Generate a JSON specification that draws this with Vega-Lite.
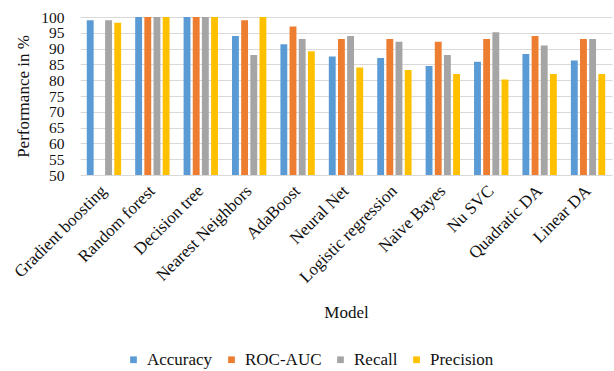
{
  "$schema": "https://vega.github.io/schema/vega-lite/v6.json",
  "width": 532,
  "height": 158,
  "autosize": {"type": "none"},
  "padding": {"left": 80, "top": 17, "right": 2, "bottom": 196},
  "background": "white",
  "config": {
    "view": {"stroke": null},
    "font": "Liberation Serif",
    "axis": {"labelFont": "Liberation Serif", "titleFont": "Liberation Serif", "labelColor": "#111", "titleColor": "#111", "titleFontWeight": "normal"},
    "legend": {"labelFont": "Liberation Serif", "labelColor": "#111"}
  },
  "data": {
    "values": [
      {"model": "Gradient boosting", "metric": "Accuracy", "value": 99},
      {"model": "Gradient boosting", "metric": "Recall", "value": 99},
      {"model": "Gradient boosting", "metric": "Precision", "value": 98.2},
      {"model": "Random forest", "metric": "Accuracy", "value": 100},
      {"model": "Random forest", "metric": "ROC-AUC", "value": 100},
      {"model": "Random forest", "metric": "Recall", "value": 100},
      {"model": "Random forest", "metric": "Precision", "value": 100},
      {"model": "Decision tree", "metric": "Accuracy", "value": 100},
      {"model": "Decision tree", "metric": "ROC-AUC", "value": 100},
      {"model": "Decision tree", "metric": "Recall", "value": 100},
      {"model": "Decision tree", "metric": "Precision", "value": 100},
      {"model": "Nearest Neighbors", "metric": "Accuracy", "value": 94},
      {"model": "Nearest Neighbors", "metric": "ROC-AUC", "value": 99},
      {"model": "Nearest Neighbors", "metric": "Recall", "value": 88},
      {"model": "Nearest Neighbors", "metric": "Precision", "value": 100},
      {"model": "AdaBoost", "metric": "Accuracy", "value": 91.4},
      {"model": "AdaBoost", "metric": "ROC-AUC", "value": 97},
      {"model": "AdaBoost", "metric": "Recall", "value": 93},
      {"model": "AdaBoost", "metric": "Precision", "value": 89.2},
      {"model": "Neural Net", "metric": "Accuracy", "value": 87.5},
      {"model": "Neural Net", "metric": "ROC-AUC", "value": 93},
      {"model": "Neural Net", "metric": "Recall", "value": 94},
      {"model": "Neural Net", "metric": "Precision", "value": 84},
      {"model": "Logistic regression", "metric": "Accuracy", "value": 87},
      {"model": "Logistic regression", "metric": "ROC-AUC", "value": 93},
      {"model": "Logistic regression", "metric": "Recall", "value": 92.2},
      {"model": "Logistic regression", "metric": "Precision", "value": 83.2},
      {"model": "Naive Bayes", "metric": "Accuracy", "value": 84.5},
      {"model": "Naive Bayes", "metric": "ROC-AUC", "value": 92.2},
      {"model": "Naive Bayes", "metric": "Recall", "value": 88},
      {"model": "Naive Bayes", "metric": "Precision", "value": 82},
      {"model": "Nu SVC", "metric": "Accuracy", "value": 85.8},
      {"model": "Nu SVC", "metric": "ROC-AUC", "value": 93},
      {"model": "Nu SVC", "metric": "Recall", "value": 95.2},
      {"model": "Nu SVC", "metric": "Precision", "value": 80.2},
      {"model": "Quadratic DA", "metric": "Accuracy", "value": 88.3},
      {"model": "Quadratic DA", "metric": "ROC-AUC", "value": 94},
      {"model": "Quadratic DA", "metric": "Recall", "value": 91},
      {"model": "Quadratic DA", "metric": "Precision", "value": 82},
      {"model": "Linear DA", "metric": "Accuracy", "value": 86.2},
      {"model": "Linear DA", "metric": "ROC-AUC", "value": 93},
      {"model": "Linear DA", "metric": "Recall", "value": 93},
      {"model": "Linear DA", "metric": "Precision", "value": 82}
    ]
  },
  "mark": {"type": "bar", "clip": true},
  "encoding": {
    "x": {
      "field": "model",
      "type": "nominal",
      "sort": ["Gradient boosting", "Random forest", "Decision tree", "Nearest Neighbors", "AdaBoost", "Neural Net", "Logistic regression", "Naive Bayes", "Nu SVC", "Quadratic DA", "Linear DA"],
      "scale": {"paddingInner": 0.29, "paddingOuter": 0.14},
      "axis": {
        "title": "Model",
        "titleFont": "Liberation Serif",
        "titleFontSize": 17,
        "titleY": 137,
        "titleBaseline": "middle",
        "labelFont": "Liberation Serif",
        "labelAngle": -45,
        "labelAlign": "right",
        "labelBaseline": "middle",
        "labelFontSize": 17,
        "labelPadding": 13,
        "labelOverlap": false,
        "ticks": false,
        "domain": false,
        "grid": false
      }
    },
    "xOffset": {
      "field": "metric",
      "type": "nominal",
      "sort": ["Accuracy", "ROC-AUC", "Recall", "Precision"],
      "scale": {"domain": ["Accuracy", "ROC-AUC", "Recall", "Precision"], "paddingInner": 0.25, "paddingOuter": 0}
    },
    "y": {
      "field": "value",
      "type": "quantitative",
      "scale": {"domain": [50, 100], "zero": false, "nice": false},
      "axis": {
        "title": "Performance in %",
        "titleFont": "Liberation Serif",
        "titleFontSize": 17,
        "titleX": -57,
        "titleY": 79,
        "titleBaseline": "middle",
        "titleAlign": "center",
        "values": [50, 55, 60, 65, 70, 75, 80, 85, 90, 95, 100],
        "labelFont": "Liberation Serif",
        "labelFontSize": 15.5,
        "labelPadding": 16,
        "labelOverlap": false,
        "labelFlush": false,
        "ticks": false,
        "domain": false,
        "grid": true,
        "gridColor": "#D9D9D9",
        "gridWidth": 1
      }
    },
    "color": {
      "field": "metric",
      "type": "nominal",
      "sort": ["Accuracy", "ROC-AUC", "Recall", "Precision"],
      "scale": {"domain": ["Accuracy", "ROC-AUC", "Recall", "Precision"], "range": ["#5B9BD5", "#ED7D31", "#A5A5A5", "#FFC000"]},
      "legend": {
        "title": null,
        "orient": "none",
        "direction": "horizontal",
        "legendX": 45,
        "legendY": 334,
        "symbolType": "square",
        "symbolSize": 45,
        "symbolStrokeWidth": 0,
        "labelFont": "Liberation Serif",
        "labelFontSize": 17,
        "labelOffset": 5,
        "columnPadding": 10
      }
    }
  }
}
